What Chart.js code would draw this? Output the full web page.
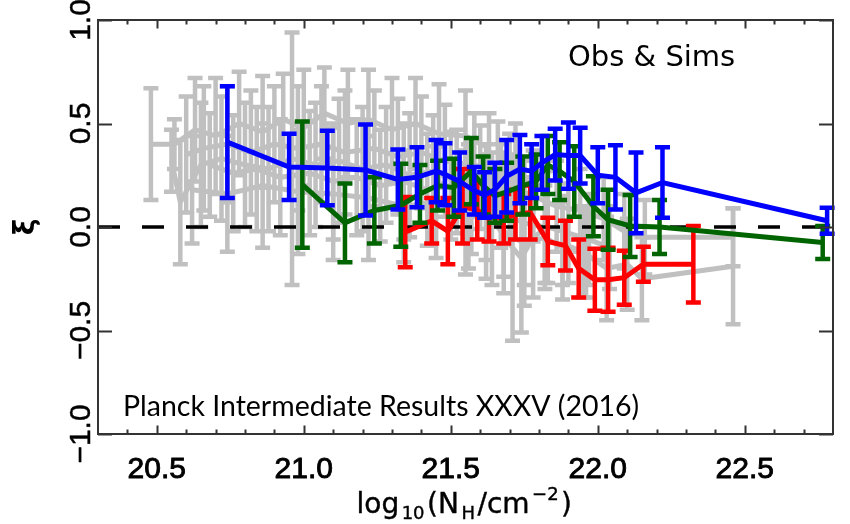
<!DOCTYPE html>
<html>
<head>
<meta charset="utf-8">
<script src="https://cdn.jsdelivr.net/npm/chart.js@4.4.1/dist/chart.umd.min.js"></script>
<style>
  html, body { margin: 0; padding: 0; background: #ffffff; }
  canvas { display: block; }
</style>
</head>
<body>
<canvas id="chart" width="850" height="524"></canvas>
<script>
// Axis ranges and tick labels
const xRange = [20.3, 22.8];
const yRange = [-1.0, 1.0];
const xMajorTicks = [20.5, 21.0, 21.5, 22.0, 22.5];
const xTickLabels = ['20.5', '21.0', '21.5', '22.0', '22.5'];
const yMajorTicks = [-1.0, -0.5, 0.0, 0.5, 1.0];
const yTickLabels = ['\u22121.0', '\u22120.5', '0.0', '0.5', '1.0'];

// Simulations: blue
const blueX = [20.74, 20.95, 21.08, 21.21, 21.32, 21.385, 21.45, 21.48, 21.53, 21.58, 21.615, 21.65, 21.69, 21.735, 21.775, 21.81, 21.855, 21.90, 21.94, 22.00, 22.06, 22.13, 22.22, 22.78];
const blueY = [0.41, 0.29, 0.285, 0.275, 0.23, 0.24, 0.27, 0.255, 0.22, 0.175, 0.155, 0.18, 0.245, 0.28, 0.27, 0.31, 0.35, 0.345, 0.345, 0.25, 0.24, 0.165, 0.215, 0.03];
const blueErr = [0.27, 0.16, 0.18, 0.22, 0.145, 0.145, 0.15, 0.15, 0.14, 0.115, 0.11, 0.13, 0.175, 0.165, 0.13, 0.13, 0.125, 0.16, 0.135, 0.135, 0.155, 0.195, 0.17, 0.063];

// Simulations: green
const greenX = [20.995, 21.14, 21.24, 21.33, 21.395, 21.455, 21.51, 21.57, 21.61, 21.65, 21.69, 21.745, 21.79, 21.83, 21.87, 21.92, 21.985, 22.035, 22.11, 22.21, 22.765];
const greenY = [0.205, 0.02, 0.08, 0.105, 0.16, 0.2, 0.19, 0.27, 0.2, 0.15, 0.17, 0.2, 0.22, 0.3, 0.27, 0.22, 0.1, 0.035, 0.005, 0.0, -0.075];
const greenErr = [0.305, 0.19, 0.16, 0.2, 0.14, 0.12, 0.14, 0.16, 0.14, 0.13, 0.14, 0.14, 0.13, 0.14, 0.14, 0.17, 0.145, 0.145, 0.15, 0.13, 0.08];

// Simulations: red
const redX = [21.345, 21.435, 21.49, 21.54, 21.59, 21.63, 21.68, 21.72, 21.77, 21.83, 21.89, 21.935, 21.99, 22.035, 22.09, 22.155, 22.325];
const redY = [-0.025, 0.03, -0.02, 0.1, 0.08, 0.05, 0.04, 0.06, 0.07, -0.07, -0.09, -0.2, -0.255, -0.255, -0.245, -0.18, -0.18];
const redErr = [0.17, 0.11, 0.16, 0.18, 0.14, 0.12, 0.12, 0.12, 0.13, 0.115, 0.12, 0.14, 0.15, 0.155, 0.13, 0.085, 0.185];

// Observations (grey), one array triple per region
const grayAX = [20.48, 20.56, 20.63, 20.70, 20.78, 20.86, 20.93, 21.00, 21.07, 21.15, 21.22, 21.30, 21.38, 21.46, 21.55, 21.63];
const grayAY = [0.40, 0.40, 0.47, 0.44, 0.50, 0.46, 0.52, 0.48, 0.55, 0.50, 0.52, 0.47, 0.50, 0.45, 0.44, 0.38];
const grayAErr = [0.27, 0.12, 0.25, 0.28, 0.25, 0.27, 0.22, 0.28, 0.22, 0.26, 0.24, 0.25, 0.22, 0.24, 0.22, 0.17];

const grayBX = [20.55, 20.58, 20.65, 20.72, 20.80, 20.88, 20.96, 21.04, 21.12, 21.20, 21.28, 21.36, 21.44, 21.52, 21.60, 21.67];
const grayBY = [0.32, 0.12, 0.30, 0.33, 0.30, 0.28, 0.33, 0.30, 0.32, 0.28, 0.30, 0.25, 0.27, 0.22, 0.24, 0.15];
const grayBErr = [0.15, 0.30, 0.30, 0.30, 0.30, 0.30, 0.61, 0.30, 0.30, 0.30, 0.28, 0.30, 0.27, 0.25, 0.25, 0.25];

const grayCX = [20.62, 20.74, 20.86, 20.98, 21.10, 21.22, 21.34, 21.45, 21.55, 21.64, 21.71, 21.74, 21.78, 21.83, 21.90, 21.97, 22.04];
const grayCY = [0.18, 0.16, 0.20, 0.17, 0.16, 0.14, 0.10, 0.12, 0.07, 0.04, -0.10, -0.15, -0.05, 0.00, -0.03, -0.06, -0.10];
const grayCErr = [0.26, 0.28, 0.30, 0.30, 0.32, 0.30, 0.27, 0.27, 0.30, 0.32, 0.45, 0.36, 0.29, 0.27, 0.24, 0.22, 0.20];

const grayDX = [21.70, 21.78, 21.86, 21.94, 22.02, 22.09, 22.16, 22.46];
const grayDY = [0.20, 0.15, 0.10, 0.08, 0.04, -0.02, -0.05, -0.05];
const grayDErr = [0.25, 0.22, 0.22, 0.20, 0.20, 0.18, 0.18, 0.14];

const grayEX = [21.88, 21.95, 22.03, 22.10, 22.15, 22.46];
const grayEY = [-0.08, -0.12, -0.20, -0.18, -0.25, -0.19];
const grayEErr = [0.20, 0.22, 0.25, 0.22, 0.20, 0.28];

const grayFX = [20.60, 20.66, 20.74, 20.82, 20.90, 20.98, 21.06, 21.14, 21.24, 21.32, 21.40, 21.48, 21.58, 21.66, 21.72];
const grayFY = [0.35, 0.38, 0.40, 0.36, 0.40, 0.38, 0.40, 0.36, 0.38, 0.34, 0.36, 0.32, 0.30, 0.26, 0.22];
const grayFErr = [0.28, 0.30, 0.28, 0.30, 0.28, 0.30, 0.28, 0.30, 0.28, 0.28, 0.27, 0.27, 0.25, 0.25, 0.28];

const grayGX = [20.68, 20.76, 20.84, 20.92, 21.02, 21.10, 21.18, 21.26, 21.34, 21.42, 21.50, 21.57, 21.62, 21.68, 21.75, 21.82];
const grayGY = [0.30, 0.26, 0.28, 0.24, 0.26, 0.22, 0.24, 0.20, 0.22, 0.18, 0.20, 0.14, 0.12, 0.06, 0.02, 0.00];
const grayGErr = [0.25, 0.28, 0.30, 0.28, 0.30, 0.28, 0.28, 0.27, 0.28, 0.27, 0.26, 0.27, 0.28, 0.30, 0.30, 0.27];

const grayHX = [21.56, 21.62, 21.68, 21.75, 21.82, 21.88, 21.96];
const grayHY = [0.10, 0.05, -0.02, -0.08, -0.05, -0.10, -0.12];
const grayHErr = [0.30, 0.30, 0.30, 0.30, 0.25, 0.25, 0.22];

// Reference line at zero
const zeroLineY = [0, 0];

const GREY = '#c0c0c0';

function points(xs, ys) {
  return xs.map((x, i) => ({ x: x, y: ys[i] }));
}

function series(xs, ys, errs, color, order) {
  return {
    data: points(xs, ys),
    errors: errs,
    borderColor: color,
    borderWidth: 5,
    pointRadius: 0,
    tension: 0,
    fill: false,
    order: order,
    clip: false
  };
}

const datasets = [
  series(blueX, blueY, blueErr, '#0000ff', 0),
  series(greenX, greenY, greenErr, '#006400', 1),
  series(redX, redY, redErr, '#ff0000', 2),
  {
    data: points(xRange, zeroLineY),
    borderColor: '#000000',
    borderWidth: 3.5,
    borderDash: [22, 22],
    pointRadius: 0,
    fill: false,
    order: 3
  },
  series(grayAX, grayAY, grayAErr, GREY, 4),
  series(grayBX, grayBY, grayBErr, GREY, 5),
  series(grayCX, grayCY, grayCErr, GREY, 6),
  series(grayDX, grayDY, grayDErr, GREY, 7),
  series(grayEX, grayEY, grayEErr, GREY, 8),
  series(grayFX, grayFY, grayFErr, GREY, 9),
  series(grayGX, grayGY, grayGErr, GREY, 10),
  series(grayHX, grayHY, grayHErr, GREY, 11)
];

// Vertical error bars with caps, drawn right after each line
const errorBars = {
  id: 'errorBars',
  afterDatasetDraw(chart, args) {
    const ds = chart.data.datasets[args.index];
    if (!ds.errors) return;
    const ctx = chart.ctx;
    const ys = chart.scales.y;
    const cap = 7.5;
    ctx.save();
    ctx.strokeStyle = ds.borderColor;
    ctx.lineWidth = 4.5;
    ctx.lineCap = 'butt';
    args.meta.data.forEach((pt, i) => {
      const v = ds.data[i].y;
      const e = ds.errors[i];
      const top = ys.getPixelForValue(v + e);
      const bot = ys.getPixelForValue(v - e);
      ctx.beginPath();
      ctx.moveTo(pt.x, top);
      ctx.lineTo(pt.x, bot);
      ctx.moveTo(pt.x - cap, top);
      ctx.lineTo(pt.x + cap, top);
      ctx.moveTo(pt.x - cap, bot);
      ctx.lineTo(pt.x + cap, bot);
      ctx.stroke();
    });
    ctx.restore();
  }
};

// Text with a thin outline so it reads a little heavier
function heavyText(ctx, text, x, y) {
  ctx.fillText(text, x, y);
  ctx.strokeText(text, x, y);
}

// Box frame, inward ticks, tick labels, axis titles and annotations
const frame = {
  id: 'frame',
  afterDraw(chart) {
    const ctx = chart.ctx;
    const xs = chart.scales.x;
    const ys = chart.scales.y;
    const a = chart.chartArea;
    ctx.save();
    ctx.strokeStyle = '#333333';
    ctx.lineWidth = 2;
    ctx.strokeRect(a.left, a.top, a.right - a.left, a.bottom - a.top);

    // x ticks (bottom and top), minor every 0.1
    ctx.beginPath();
    for (let k = Math.round(xRange[0] * 10) + 1; k < Math.round(xRange[1] * 10); k++) {
      const v = k / 10;
      const px = Math.round(xs.getPixelForValue(v)) + 0.5;
      const major = k % 5 === 0;
      const len = major ? 8.5 : 4.5;
      ctx.moveTo(px, a.bottom);
      ctx.lineTo(px, a.bottom - len);
      ctx.moveTo(px, a.top);
      ctx.lineTo(px, a.top + len);
    }
    // y ticks (left and right)
    yMajorTicks.forEach(v => {
      const py = Math.round(ys.getPixelForValue(v)) + 0.5;
      ctx.moveTo(a.left, py);
      ctx.lineTo(a.left + 14, py);
      ctx.moveTo(a.right, py);
      ctx.lineTo(a.right - 14, py);
    });
    ctx.stroke();

    // x tick labels
    ctx.fillStyle = '#000000';
    ctx.strokeStyle = '#000000';
    ctx.lineWidth = 0.9;
    ctx.font = '30px "Liberation Sans", Arial, sans-serif';
    ctx.textAlign = 'center';
    ctx.textBaseline = 'alphabetic';
    xMajorTicks.forEach((v, i) => {
      heavyText(ctx, xTickLabels[i], xs.getPixelForValue(v), 478);
    });

    // y tick labels, rotated
    yMajorTicks.forEach((v, i) => {
      ctx.save();
      ctx.translate(90, ys.getPixelForValue(v));
      ctx.rotate(-Math.PI / 2);
      ctx.textAlign = 'center';
      ctx.textBaseline = 'alphabetic';
      ctx.lineWidth = 0.5;
      heavyText(ctx, yTickLabels[i], 0, 0);
      ctx.restore();
    });

    // y title
    ctx.save();
    ctx.translate(27, ys.getPixelForValue(0));
    ctx.rotate(-Math.PI / 2);
    ctx.font = 'bold 28px "DejaVu Sans", sans-serif';
    ctx.textAlign = 'center';
    ctx.textBaseline = 'middle';
    ctx.fillText('\u03BE', 0, 0);
    ctx.restore();

    // x title: log10(N_H/cm^-2)
    const big = '28px "DejaVu Sans", sans-serif';
    const small = '18px "DejaVu Sans", sans-serif';
    const parts = [
      { t: 'log', f: big, dy: 0 },
      { t: '10', f: small, dy: 6 },
      { t: '(N', f: big, dy: 0 },
      { t: 'H', f: small, dy: 6 },
      { t: '/cm', f: big, dy: 0 },
      { t: '\u22122', f: small, dy: -13 },
      { t: ')', f: big, dy: 0 }
    ];
    const spacing = 2.5;
    let total = 0;
    parts.forEach(p => { ctx.font = p.f; p.w = ctx.measureText(p.t).width + spacing; total += p.w; });
    let cx = (a.left + a.right) / 2 - total / 2;
    ctx.textAlign = 'left';
    ctx.lineWidth = 0.4;
    parts.forEach(p => {
      ctx.font = p.f;
      heavyText(ctx, p.t, cx, 513 + p.dy);
      cx += p.w;
    });

    // panel label
    ctx.font = '29px "DejaVu Sans", sans-serif';
    ctx.textAlign = 'left';
    ctx.fillText('Obs & Sims', 568, 66);

    // citation
    const cite = 'Planck Intermediate Results XXXV (2016)';
    ctx.font = '100px Lato, "Open Sans", sans-serif';
    const size = 100 * 517 / ctx.measureText(cite).width;
    ctx.font = size.toFixed(1) + 'px Lato, "Open Sans", sans-serif';
    ctx.fillText(cite, 123, 416);
    ctx.restore();
  }
};

new Chart(document.getElementById('chart').getContext('2d'), {
  type: 'line',
  data: { datasets: datasets },
  options: {
    responsive: false,
    animation: false,
    devicePixelRatio: 1,
    layout: { padding: { left: 98, right: 17, top: 20, bottom: 90 } },
    scales: {
      x: { type: 'linear', min: xRange[0], max: xRange[1], display: false },
      y: { type: 'linear', min: yRange[0], max: yRange[1], display: false }
    },
    plugins: {
      legend: { display: false },
      tooltip: { enabled: false }
    }
  },
  plugins: [errorBars, frame]
});
</script>
</body>
</html>
